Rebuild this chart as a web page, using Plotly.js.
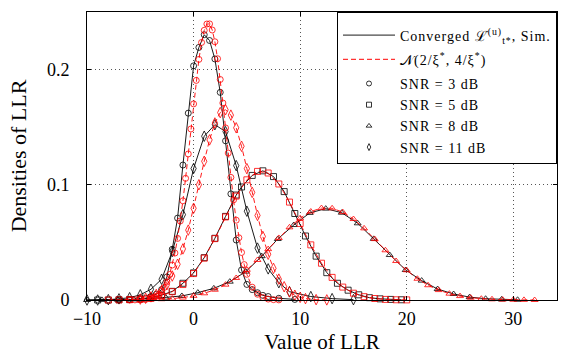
<!DOCTYPE html>
<html>
<head>
<meta charset="utf-8">
<script src="https://cdn.plot.ly/plotly-3.0.1.min.js"></script>
<style>html,body{margin:0;padding:0;background:#fff;}#plot{width:564px;height:354px;}
.legendtext{letter-spacing:1px;}</style>
</head>
<body>
<div id="plot"></div>
<script>
// ---- Data ----
// SNR = 3 dB (circles)
const simCircleX = [-7,-6,-5,-4.5,-4,-3.5,-3,-2.5,-2,-1.5,-1,-0.5,0,0.5,1,1.5,2,2.5,3,3.5,4,4.5,5,5.5,6,6.5,7,8,9.5];
const simCircleY = [0,0.0003,0.0008,0.0015,0.003,0.005,0.009,0.020,0.044,0.071,0.117,0.162,0.203,0.219,0.230,0.225,0.209,0.180,0.138,0.092,0.052,0.026,0.0135,0.009,0.0063,0.004,0.003,0.0015,0.0005];
const gaussCircleX = [-6,-5.5,-5,-4.5,-4,-3.75,-3.5,-3.25,-3,-2.75,-2.5,-2.25,-2,-1.75,-1.5,-1.25,-1,-0.75,-0.5,-0.25,0,0.25,0.5,0.75,1,1.25,1.5,1.75,2,2.25,2.5,2.75,3,3.25,3.5,3.75,4,4.25,4.5,4.75,5,5.5,6,6.5,7,7.5,8];
const gaussCircleY = [0,0.0001,0.0002,0.0005,0.0013,0.002,0.0032,0.0049,0.0074,0.0109,0.0157,0.0221,0.0303,0.0407,0.0534,0.0685,0.0860,0.1055,0.1266,0.1483,0.170,0.1904,0.2086,0.2233,0.2338,0.2393,0.2394,0.2341,0.2239,0.2092,0.1912,0.1708,0.1492,0.1274,0.1063,0.0868,0.0692,0.0540,0.0412,0.0307,0.0223,0.0111,0.0050,0.0021,0.0008,0.0003,0.0001];
// SNR = 5 dB (squares)
const simSquareX = [-9,-8,-7,-6,-5,-4,-3,-2,-1,0,1,2,3,4,4.5,5.5,6.5,7.5,8.5,9.5,10.5,11.5,12.5,13.5,14.5,15.5,16.5,17.5,18.5,19.5];
const simSquareY = [0,0,0.0002,0.0004,0.0009,0.002,0.0042,0.0075,0.0145,0.0235,0.0367,0.0535,0.0725,0.091,0.098,0.108,0.112,0.107,0.094,0.075,0.0555,0.038,0.0237,0.0145,0.0085,0.0045,0.002,0.001,0.0005,0.0002];
const gaussSquareX = [-8,-7,-6,-5,-4,-3,-2,-1,0,1,2,3,4,5,6,7,8,9,10,11,12,13,14,15,16,17,18,19,20];
const gaussSquareY = [0,0.0001,0.0003,0.0007,0.0017,0.0036,0.0072,0.0134,0.0229,0.0363,0.0532,0.0720,0.0901,0.1042,0.1115,0.1101,0.1006,0.0849,0.0663,0.0478,0.0319,0.0196,0.0112,0.0059,0.0029,0.0013,0.0005,0.0002,0.0001];
// SNR = 8 dB (triangles)
const simTriangleX = [-10,-8.6,-7.1,-5.6,-4.1,-2.6,-1.1,0.4,1.9,3.4,4.9,6.4,7.9,9.4,10.9,12.4,13.9,15.4,16.9,18.4,19.9,21.4,22.9,24.4,25.9,27.4,28.9,30.4];
const simTriangleY = [0,0.0001,0.0002,0.0005,0.0011,0.002,0.0035,0.0064,0.0101,0.0159,0.0246,0.038,0.0529,0.065,0.0755,0.0792,0.0757,0.0665,0.053,0.039,0.026,0.0168,0.0095,0.0052,0.0025,0.0011,0.0005,0.0002];
const gaussTriangleX = [-4,-3,-2,-1,0,1,2,3,4,5,6,7,8,9,10,11,12,13,14,15,16,17,18,19,20,21,22,23,24,25,26,27,28,29,30,31,32];
const gaussTriangleY = [0.0004,0.0007,0.0012,0.0021,0.0036,0.0058,0.0089,0.0133,0.0191,0.0262,0.0347,0.0441,0.0538,0.0630,0.0709,0.0767,0.0797,0.0795,0.0762,0.0702,0.0621,0.0528,0.0431,0.0338,0.0258,0.0184,0.0128,0.0086,0.0055,0.0034,0.0020,0.0011,0.0006,0.0003,0.0002,0.0001,0];
// SNR = 11 dB (diamonds)
const simDiamondX = [-10,-9,-8,-7,-6,-5,-4,-3,-2,-1,0,1,2,3,4,5,6,7,8,9,11,13,15];
const simDiamondY = [0,0,0.0003,0.001,0.002,0.0045,0.0093,0.018,0.042,0.074,0.114,0.142,0.152,0.146,0.1165,0.077,0.045,0.027,0.015,0.0072,0.003,0.0012,0.0003];
const gaussDiamondX = [-5,-4.5,-4,-3.5,-3,-2.5,-2,-1.5,-1,-0.5,0,0.5,1,1.5,2,2.5,3,3.5,4,4.5,5,5.5,6,6.5,7,7.5,8,8.5,9,9.5,10,10.5,11.5,12.5];
const gaussDiamondY = [0.0008,0.0015,0.0027,0.0048,0.0082,0.0133,0.0208,0.0310,0.0443,0.0606,0.0795,0.0999,0.1203,0.1388,0.1535,0.1625,0.1650,0.1603,0.1493,0.1333,0.1139,0.0933,0.0733,0.0551,0.0397,0.0274,0.0181,0.0115,0.0070,0.0041,0.0023,0.0012,0.0003,0.0001];

const legendNames = ['Converged \u2112\u0307<sup>(u)</sup><sub>t*</sub>, Sim.', '\ud835\udca9(2/\u03be<sup>*</sup>, 4/\u03be<sup>*</sup>)',
  'SNR = 3 dB', 'SNR = 5 dB', 'SNR = 8 dB', 'SNR = 11 dB'];
const xTicks = [-10, 0, 10, 20, 30];
const yTicks = [0, 0.1, 0.2];
const yTickText = ['0', '0.1', '0.2'];

// ---- Styles ----
const FONT = 'Liberation Serif, Times New Roman, serif';
const BLACK = '#000000', RED = '#ff0000';
const DASH = '5px,3px';
const symbols = ['circle-open', 'square-open', 'triangle-up-open', 'diamond-tall-open'];
const sizes = [6, 6, 6, 7.5];
const sims = [[simCircleX, simCircleY], [simSquareX, simSquareY], [simTriangleX, simTriangleY], [simDiamondX, simDiamondY]];
const gauss = [[gaussCircleX, gaussCircleY], [gaussSquareX, gaussSquareY], [gaussTriangleX, gaussTriangleY], [gaussDiamondX, gaussDiamondY]];

const traces = [];
sims.forEach((s, i) => traces.push({
  x: s[0], y: s[1], type: 'scatter', mode: 'lines+markers', showlegend: false, cliponaxis: false,
  line: {color: BLACK, width: 0.9},
  marker: {symbol: symbols[i], size: sizes[i], color: BLACK, line: {color: BLACK, width: 0.8}}
}));
gauss.forEach((g, i) => traces.push({
  x: g[0], y: g[1], type: 'scatter', mode: 'lines+markers', showlegend: false, cliponaxis: false,
  line: {color: RED, width: 0.9, dash: DASH},
  marker: {symbol: symbols[i], size: sizes[i], color: RED, line: {color: RED, width: 0.8}}
}));
// legend entries
traces.push({x: [null], y: [null], type: 'scatter', mode: 'lines', name: legendNames[0], legendgroup: 'a',
  line: {color: BLACK, width: 0.9}});
traces.push({x: [null], y: [null], type: 'scatter', mode: 'lines', name: legendNames[1], legendgroup: 'b',
  line: {color: RED, width: 1, dash: DASH}});
symbols.forEach((sym, i) => traces.push({
  x: [null], y: [null], type: 'scatter', mode: 'markers', name: legendNames[i + 2], legendgroup: 'c',
  marker: {symbol: sym, size: 5, color: BLACK, line: {color: BLACK, width: 0.8}}
}));

const layout = {
  width: 564, height: 354,
  margin: {l: 87, r: 7, t: 12, b: 54},
  paper_bgcolor: '#fff', plot_bgcolor: '#fff',
  font: {family: FONT, color: '#000', size: 16},
  showlegend: true,
  legend: {x: 1, y: 1, xanchor: 'right', yanchor: 'top', bgcolor: '#fff', bordercolor: '#000', borderwidth: 1,
    font: {family: FONT, size: 14, color: '#000'}, itemwidth: 52, tracegroupgap: 3, traceorder: 'grouped',
    title: {text: ' ', font: {family: FONT, size: 5}}},
  xaxis: {
    range: [-10, 34.1], tickvals: xTicks, ticks: 'inside', ticklen: 4, tickcolor: '#000',
    showline: true, mirror: 'ticks', linecolor: '#000', linewidth: 1,
    showgrid: true, gridcolor: '#555', gridwidth: 1, griddash: '1px,3px', zeroline: false,
    tickfont: {family: FONT, size: 18}, ticklabelstandoff: 2,
    title: {text: 'Value of LLR', font: {family: FONT, size: 21}, standoff: 8}
  },
  yaxis: {
    range: [0, 0.2497], tickvals: yTicks, ticktext: yTickText, ticks: 'inside', ticklen: 4, tickcolor: '#000',
    showline: true, mirror: 'ticks', linecolor: '#000', linewidth: 1,
    showgrid: true, gridcolor: '#555', gridwidth: 1, griddash: '1px,3px', zeroline: false,
    tickfont: {family: FONT, size: 18}, ticklabelstandoff: 13,
    title: {text: 'Densities of LLR', font: {family: FONT, size: 22}, standoff: 14}
  }
};

Plotly.newPlot('plot', traces, layout, {displayModeBar: false, staticPlot: true});
</script>
</body>
</html>
